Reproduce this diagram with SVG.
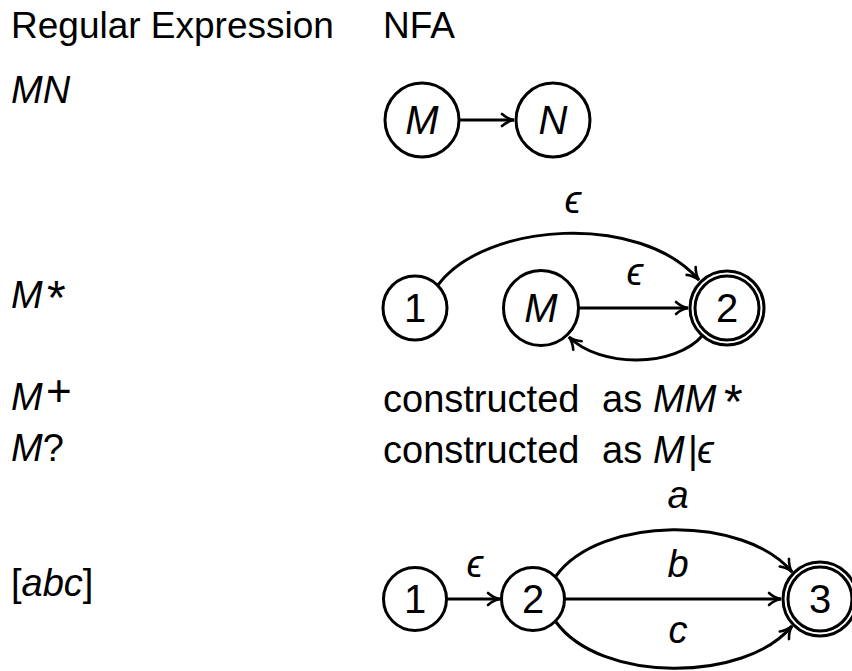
<svg xmlns="http://www.w3.org/2000/svg" width="852" height="671" viewBox="0 0 852 671">
  <defs>
    <marker id="arrow" markerUnits="userSpaceOnUse" markerWidth="16" markerHeight="14" refX="0" refY="0" viewBox="-13 -7 16 14" orient="auto" overflow="visible">
      <path d="M-12,-6 C-8,-2.4 -3.5,-0.6 0,0 C-3.5,0.6 -8,2.4 -12,6" fill="none" stroke="#000" stroke-width="2.6" stroke-linecap="round"/>
    </marker>
  </defs>
  <style>
    text { font-family: "Liberation Sans", "DejaVu Sans", sans-serif; fill: #000; }
    .body { font-size: 38px; }
    .head { font-size: 37px; }
    .it { font-style: italic; }
    .node circle { fill: #fff; stroke: #000; stroke-width: 3; }
    .node text { font-size: 40px; text-anchor: middle; }
    .edge { fill: none; stroke: #000; stroke-width: 3; marker-end: url(#arrow); }
    .lbl { font-size: 38px; font-style: italic; text-anchor: middle; }
    .eps { font-size: 38px; font-style: italic; text-anchor: middle; }
  </style>

  <!-- column headings -->
  <text class="head" x="11" y="38">Regular Expression</text>
  <text class="head" x="383" y="38">NFA</text>

  <!-- left column: expressions -->
  <text class="body it" x="11" y="103">MN</text>
  <text class="body" x="11" y="308"><tspan class="it">M</tspan><tspan font-size="48" x="47" y="314">*</tspan></text>
  <text class="body" x="11" y="410"><tspan class="it">M</tspan><tspan font-size="44" x="46" y="406">+</tspan></text>
  <text class="body" x="11" y="461"><tspan class="it">M</tspan>?</text>
  <text class="body" x="11" y="596">[<tspan class="it">abc</tspan>]</text>

  <!-- right column: textual constructions -->
  <text class="body" x="383" y="412">constructed<tspan x="602">as</tspan><tspan class="it" x="653">MM</tspan><tspan font-size="48" x="724" y="418">*</tspan></text>
  <text class="body" x="383" y="463">constructed<tspan x="602">as</tspan><tspan class="it" x="653">M</tspan><tspan x="688">|</tspan><tspan class="it" x="697">ϵ</tspan></text>

  <!-- MN: concatenation -->
  <g id="mn-M" class="node"><circle cx="422" cy="120" r="37"/><text class="it" x="422" y="134">M</text></g>
  <g id="mn-N" class="node"><circle cx="553" cy="120" r="37"/><text class="it" x="553" y="134">N</text></g>

  <!-- M*: closure -->
  <g id="star-1" class="node"><circle cx="415" cy="308" r="32"/><text x="415" y="322">1</text></g>
  <g id="star-M" class="node"><circle cx="541" cy="308" r="37.5"/><text class="it" x="541" y="322">M</text></g>
  <g id="star-2" class="node"><circle cx="727" cy="308" r="37"/><circle cx="727" cy="308" r="32"/><text x="727" y="322">2</text></g>

  <!-- [abc]: character class -->
  <g id="cls-1" class="node"><circle cx="415" cy="599" r="31.5"/><text x="415" y="613">1</text></g>
  <g id="cls-2" class="node"><circle cx="533" cy="599" r="31.5"/><text x="533" y="613">2</text></g>
  <g id="cls-3" class="node"><circle cx="820" cy="599" r="37"/><circle cx="820" cy="599" r="32"/><text x="820" y="613">3</text></g>

  <g id="connectors">
    <!-- MN -->
    <path class="edge" d="M459,120 L514,120"/>
    <!-- M* -->
    <path class="edge" d="M438,285 C485,222 640,212 699,280"/>
    <path class="edge" d="M578.5,308 L688,308"/>
    <path class="edge" d="M703,335 C675,368 600,368 569,337"/>
    <!-- [abc] -->
    <path class="edge" d="M446.5,599 L500,599"/>
    <path class="edge" d="M556,576 C600,515 745,515 792,572"/>
    <path class="edge" d="M564.5,599 L781,599"/>
    <path class="edge" d="M556,622 C600,683 745,683 792,626"/>
  </g>

  <!-- edge labels -->
  <text class="eps" x="573" y="213">ϵ</text>
  <text class="eps" x="635" y="285">ϵ</text>
  <text class="eps" x="475" y="577">ϵ</text>
  <text class="lbl" x="678" y="508">a</text>
  <text class="lbl" x="678" y="577">b</text>
  <text class="lbl" x="678" y="643">c</text>
</svg>
